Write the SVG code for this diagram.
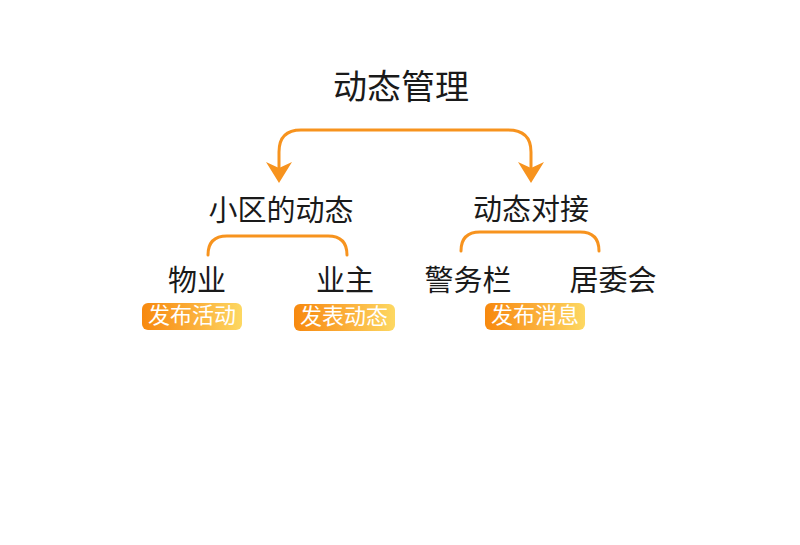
<svg xmlns="http://www.w3.org/2000/svg" width="800" height="545" viewBox="0 0 800 545">
<defs>
<linearGradient id="g" x1="0" y1="0" x2="1" y2="0">
<stop offset="0" stop-color="#f7890f"/>
<stop offset="0.5" stop-color="#fbad38"/>
<stop offset="1" stop-color="#fdd862"/>
</linearGradient>
<marker id="ah" markerUnits="userSpaceOnUse" markerWidth="22" markerHeight="26" refX="6" refY="13" orient="auto-start-reverse" viewBox="0 0 22 26">
<path d="M0,0 L21,13 L0,26 L6,13 Z" fill="#f7931e"/>
</marker>
<style>
text{font-family:"Noto Sans CJK SC","Noto Sans",sans-serif;text-anchor:middle;fill:#1a1a1a}
.t{font-size:34px}
.s{font-size:29px}
.b{font-size:22px;fill:#fff}
.c{fill:none;stroke:#f7931e;stroke-width:3;stroke-linecap:round}
.r{fill:url(#g)}
</style>
</defs>
<rect width="800" height="545" fill="#fff"/>
<g id="connectors">
<path class="c" style="stroke-linecap:butt" d="M279,168 V152 Q279,130 301,130 H508 Q531,130 531,152 V168" marker-start="url(#ah)" marker-end="url(#ah)"/>
<path class="c" d="M208,255 Q208,236 227,236 H328 Q347,236 347,255"/>
<path class="c" d="M461,251 Q461,232 480,232 H580 Q599,232 599,251"/>
</g>
<g id="root"><text class="t" x="401" y="99">动态管理</text></g>
<g id="n1"><text class="s" x="281" y="221">小区的动态</text></g>
<g id="n2"><text class="s" x="531" y="220">动态对接</text></g>
<g id="n3"><text class="s" x="197" y="291">物业</text></g>
<g id="n4"><text class="s" x="345" y="291">业主</text></g>
<g id="n5"><text class="s" x="468" y="291">警务栏</text></g>
<g id="n6"><text class="s" x="613" y="291">居委会</text></g>
<g id="b1"><rect class="r" x="142" y="303" width="100" height="27" rx="6"/><text class="b" x="192" y="323">发布活动</text></g>
<g id="b2"><rect class="r" x="294" y="304" width="101" height="27" rx="6"/><text class="b" x="344" y="324">发表动态</text></g>
<g id="b3"><rect class="r" x="485" y="303" width="100" height="27" rx="6"/><text class="b" x="535" y="323">发布消息</text></g>
</svg>
